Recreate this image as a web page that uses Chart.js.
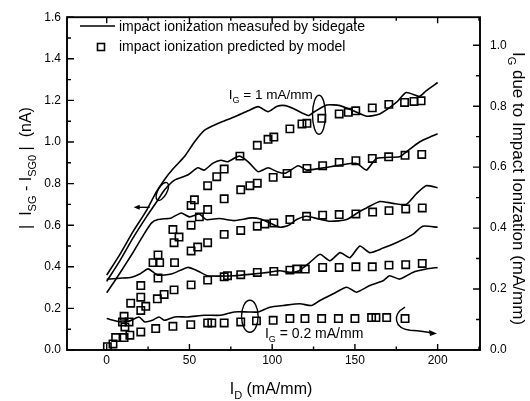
<!DOCTYPE html>
<html>
<head>
<meta charset="utf-8">
<script src="https://cdn.jsdelivr.net/npm/chart.js@4.4.1/dist/chart.umd.min.js"></script>
<style>
html,body{margin:0;padding:0;background:#fff;}
#c{display:block;}
</style>
</head>
<body>
<canvas id="c" width="530" height="401"></canvas>
<script>
// ---------- axis ticks ----------
const xTicks = [0, 50, 100, 150, 200];
const yLeftTicks = [0, 0.2, 0.4, 0.6, 0.8, 1.0, 1.2, 1.4, 1.6];
const yRightTicks = [0, 0.2, 0.4, 0.6, 0.8, 1.0];

// ---------- measured by sidegate (lines), [I_D, |I_SG - I_SG0|] ----------
const measuredA = [[0,0.36],[8,0.46],[16,0.57],[24,0.67],[30,0.76],[35,0.82],[40,0.87],[47,0.93],[53,1.0],[59,1.056],[69,1.095],[77,1.12],[85.5,1.15],[91.5,1.17],[97.5,1.146],[103,1.172],[108,1.175],[113,1.16],[122,1.127],[125,1.143],[133,1.178],[141,1.175],[149,1.15],[157,1.124],[165,1.135],[175,1.19],[181,1.238],[189,1.22],[193,1.246],[200,1.286]];
const measuredB = [[0,0.33],[8,0.43],[16,0.54],[24,0.64],[30,0.71],[35,0.77],[41,0.817],[49,0.841],[55,0.876],[59,0.865],[64,0.897],[69,0.912],[73,0.905],[80,0.932],[85.5,0.905],[91.5,0.857],[97.5,0.876],[103,0.857],[108,0.85],[115.7,0.886],[120.8,0.865],[131,0.876],[141,0.889],[151,0.897],[157,0.865],[163,0.921],[177,0.929],[181,0.952],[189,1.0],[193,1.016],[200,1.04]];
const measuredC = [[0,0.275],[8,0.37],[16,0.47],[22,0.55],[27,0.61],[31,0.627],[39,0.635],[45,0.659],[50,0.64],[56,0.654],[60,0.627],[68,0.632],[77,0.622],[87.5,0.635],[93,0.63],[97.5,0.615],[104.7,0.59],[110,0.6],[114.8,0.627],[120.8,0.643],[128,0.63],[135,0.619],[145,0.627],[153,0.667],[157,0.683],[165,0.714],[173,0.705],[181,0.70],[187,0.75],[193,0.79],[200,0.78]];
const measuredD = [[0,0.34],[8,0.345],[15,0.35],[20,0.365],[25,0.39],[31,0.36],[39,0.365],[49,0.397],[55,0.38],[61,0.357],[77,0.357],[88,0.365],[97.6,0.373],[104.7,0.381],[110.7,0.373],[116,0.38],[122.8,0.421],[128.9,0.46],[135,0.429],[141,0.468],[147,0.444],[153,0.5],[159,0.468],[167,0.49],[175,0.516],[185,0.556],[191,0.595],[200,0.59]];
const measuredE = [[0,0.151],[8.5,0.135],[14,0.14],[19.5,0.159],[23,0.135],[27.6,0.143],[31.6,0.159],[35,0.143],[41,0.159],[49,0.159],[59,0.167],[69,0.167],[77,0.183],[85.5,0.183],[91.5,0.183],[98.6,0.206],[106.7,0.214],[116.8,0.222],[123.8,0.214],[128.9,0.238],[136.9,0.27],[145,0.302],[151,0.278],[159,0.31],[167,0.333],[171,0.357],[177,0.341],[185,0.373],[193,0.389],[200,0.397]];

// ---------- predicted by model (squares), [I_D, |I_SG - I_SG0|] ----------
const predictedA = [[10.5,0.162],[31,0.457],[40,0.579],[51,0.695],[53,0.722],[61,0.79],[66.5,0.833],[71,0.87],[80.5,0.932],[91,0.984],[97.5,1.013],[101,1.024],[110.7,1.063],[118,1.087],[121,1.09],[130,1.114],[140.5,1.135],[146,1.143],[150.5,1.15],[160.5,1.164],[170.5,1.181],[180,1.19],[185.7,1.195],[190,1.198]];
const predictedB = [[9.5,0.135],[14.5,0.225],[20.6,0.31],[28,0.42],[32,0.42],[40.7,0.516],[43.7,0.543],[51,0.6],[56,0.64],[61,0.675],[71,0.727],[81,0.77],[86.5,0.79],[91,0.802],[100.6,0.83],[109,0.849],[121,0.873],[130.5,0.886],[140.5,0.902],[150.6,0.91],[160.5,0.921],[170.4,0.929],[180.3,0.936],[190.4,0.94]];
const predictedC = [[11,0.111],[13.5,0.135],[20.6,0.254],[31,0.346],[41,0.42],[51,0.476],[55,0.495],[61,0.516],[71,0.556],[81,0.575],[91,0.595],[95.6,0.606],[101,0.611],[110.7,0.627],[120.8,0.643],[130.5,0.648],[140.5,0.651],[150.6,0.654],[160.7,0.663],[170.6,0.67],[180.7,0.678],[190.7,0.683]];
const predictedD = [[3.8,0.029],[10.5,0.06],[14,0.071],[20.6,0.19],[23.6,0.21],[30.6,0.246],[34.7,0.267],[40.7,0.289],[51,0.313],[61,0.336],[71,0.352],[73,0.357],[81,0.362],[91,0.373],[101,0.378],[110.7,0.384],[114.8,0.389],[120,0.389],[130.5,0.397],[140.5,0.397],[150.6,0.4],[160.5,0.4],[170.6,0.408],[180.7,0.41],[190.7,0.416]];
const predictedE = [[0.4,0.016],[5.4,0.06],[20.6,0.087],[29.6,0.103],[40,0.114],[50.8,0.122],[61,0.13],[63.5,0.13],[71,0.13],[81,0.135],[90.5,0.14],[100.6,0.143],[110.7,0.151],[119.8,0.151],[129.9,0.151],[140,0.151],[150,0.151],[160.1,0.156],[162.7,0.156],[169.2,0.156],[180.3,0.151]];

const FAM = '"Liberation Sans", Arial, Helvetica, sans-serif';

const lineSets = [measuredA, measuredB, measuredC, measuredD, measuredE];
const squareSets = [predictedA, predictedB, predictedC, predictedD, predictedE];
const toXY = arr => arr.map(([x, y]) => ({x, y}));

const datasets = [];
lineSets.forEach(s => datasets.push({
  data: toXY(s), showLine: true, borderColor: '#000', borderWidth: 1.6,
  pointRadius: 0, tension: 0.2, yAxisID: 'y', order: 2
}));
squareSets.forEach(s => datasets.push({
  data: toXY(s), showLine: false, pointStyle: 'rect', pointRadius: 5.2,
  pointBorderColor: '#000', pointBackgroundColor: 'rgba(0,0,0,0)', pointBorderWidth: 1.6,
  yAxisID: 'y', order: 1
}));

function rich(ctx, parts, size, cx, cy, align, rot, subScale) {
  ctx.save();
  ctx.translate(cx, cy);
  if (rot) ctx.rotate(rot);
  const sub = Math.round(size * (subScale || 0.66));
  const w = parts.map(([t, s]) => { ctx.font = (s ? sub : size) + 'px ' + FAM; return ctx.measureText(t).width; });
  const total = w.reduce((a, b) => a + b, 0);
  let x = align === 'left' ? 0 : -total / 2;
  ctx.fillStyle = '#000'; ctx.textAlign = 'left'; ctx.textBaseline = 'alphabetic';
  const base = size * 0.36;
  parts.forEach(([t, s], i) => {
    ctx.font = (s ? sub : size) + 'px ' + FAM;
    ctx.fillText(t, x, base + (s ? size * 0.3 : 0));
    x += w[i];
  });
  ctx.restore();
}

const decor = {
  id: 'decor',
  afterDraw(chart) {
    const {ctx, chartArea: a, scales: {x, y, y2}} = chart;
    const P = (i, v) => [x.getPixelForValue(i), y.getPixelForValue(v)];
    ctx.save();
    ctx.strokeStyle = '#000'; ctx.fillStyle = '#000';
    // frame
    ctx.lineWidth = 1.9;
    ctx.strokeRect(a.left, a.top, a.right - a.left, a.bottom - a.top);
    // ticks
    ctx.lineWidth = 1.4;
    ctx.beginPath();
    for (let v = -25; v <= 225; v += 25) {
      if (v < x.min || v > x.max) continue;
      const px = x.getPixelForValue(v), L = (v % 50 === 0) ? 6 : 3.5;
      ctx.moveTo(px, a.bottom); ctx.lineTo(px, a.bottom - L);
      ctx.moveTo(px, a.top); ctx.lineTo(px, a.top + L);
    }
    for (let k = 0; k <= 16; k++) {
      const py = y.getPixelForValue(k / 10), L = (k % 2 === 0) ? 7 : 4;
      ctx.moveTo(a.left, py); ctx.lineTo(a.left + L, py);
    }
    for (let k = 0; k <= 10; k++) {
      const py = y2.getPixelForValue(k / 10), L = (k % 2 === 0) ? 7 : 4;
      ctx.moveTo(a.right, py); ctx.lineTo(a.right - L, py);
    }
    ctx.stroke();

    // axis titles
    rich(ctx, [['I', 0], ['D', 1], [' (mA/mm)', 0]], 16, 271, 388, 'center', 0);
    rich(ctx, [['|  I', 0], ['SG', 1], [' - I', 0], ['SG0', 1], [' |  (nA)', 0]], 16, 25, 168, 'center', -Math.PI / 2, 0.7);
    rich(ctx, [['I', 0], ['G', 1], [' due to Impact Ionization (mA/mm)', 0]], 17, 519, 188.5, 'center', Math.PI / 2);

    // legend
    ctx.lineWidth = 1.6;
    ctx.beginPath(); ctx.moveTo(80, 26); ctx.lineTo(115, 26); ctx.stroke();
    ctx.strokeRect(97.5, 43.5, 7, 7);
    ctx.font = '14px ' + FAM; ctx.textBaseline = 'middle'; ctx.textAlign = 'left';
    ctx.fillText('impact ionization measured by sidegate', 119, 27);
    ctx.fillText('impact ionization predicted by model', 119, 47);

    // annotations
    let p = P(73.8, 1.229);
    rich(ctx, [['I', 0], ['G', 1], [' = 1 mA/mm', 0]], 13.5, p[0], p[1], 'left', 0);
    p = P(95.6, 0.081);
    rich(ctx, [['I', 0], ['G', 1], [' = 0.2 mA/mm', 0]], 14, p[0], p[1], 'left', 0);

    ctx.lineWidth = 1.4;
    p = P(128.3, 1.131);
    ctx.beginPath(); ctx.ellipse(p[0], p[1], 6.5, 19.5, 0, 0, Math.PI * 2); ctx.stroke();
    p = P(86.5, 0.162);
    ctx.beginPath(); ctx.ellipse(p[0], p[1], 8.3, 16, 0, 0, Math.PI * 2); ctx.stroke();
    p = P(33.6, 0.762);
    ctx.beginPath(); ctx.ellipse(p[0], p[1], 10, 4.5, -61 * Math.PI / 180, 0, Math.PI * 2); ctx.stroke();

    // small left arrow
    const s1 = P(26, 0.686), e1 = P(16.3, 0.686);
    ctx.beginPath(); ctx.moveTo(s1[0], s1[1]); ctx.lineTo(e1[0] + 4, e1[1]); ctx.stroke();
    ctx.beginPath(); ctx.moveTo(e1[0], e1[1]); ctx.lineTo(e1[0] + 6, e1[1] - 2.5); ctx.lineTo(e1[0] + 6, e1[1] + 2.5); ctx.closePath(); ctx.fill();

    // curved arrow to the right axis
    const q0 = P(180.3, 0.206), q1 = P(172.4, 0.171), q2 = P(173.6, 0.105), q3 = P(183.3, 0.095), q4 = P(192.4, 0.09), q5 = P(199.6, 0.079);
    ctx.beginPath(); ctx.moveTo(q0[0], q0[1]);
    ctx.bezierCurveTo(q1[0], q1[1], q2[0], q2[1], q3[0], q3[1]);
    ctx.quadraticCurveTo(q4[0], q4[1], q5[0] - 5, q5[1] - 0.6);
    ctx.stroke();
    ctx.beginPath(); ctx.moveTo(q5[0], q5[1]); ctx.lineTo(q5[0] - 8, q5[1] - 3.5); ctx.lineTo(q5[0] - 7, q5[1] + 2.5); ctx.closePath(); ctx.fill();
    ctx.restore();
  }
};

const tickFont = {family: FAM, size: 12};
const noGrid = {display: false, drawTicks: false, tickLength: 0};
new Chart(document.getElementById('c').getContext('2d'), {
  type: 'scatter',
  data: {datasets},
  options: {
    responsive: false, animation: false, devicePixelRatio: 1,
    layout: {padding: {top: 14, left: 0, right: 0, bottom: 0}},
    plugins: {legend: {display: false}, tooltip: {enabled: false}},
    scales: {
      x: {
        type: 'linear', position: 'bottom', min: -24, max: 225.6,
        grid: noGrid, border: {display: false},
        afterBuildTicks: s => { s.ticks = xTicks.map(v => ({value: v})); },
        ticks: {font: tickFont, color: '#000', padding: 3, maxRotation: 0, autoSkip: false, callback: v => String(v)},
        afterFit: s => { s.height = 51; }
      },
      y: {
        type: 'linear', position: 'left', min: 0, max: 1.6,
        grid: noGrid, border: {display: false},
        afterBuildTicks: s => { s.ticks = yLeftTicks.map(v => ({value: v})); },
        ticks: {font: tickFont, color: '#000', padding: 6, autoSkip: false, callback: v => Number(v).toFixed(1)},
        afterFit: s => { s.width = 67; }
      },
      y2: {
        type: 'linear', position: 'right', min: 0, max: 1.092,
        grid: noGrid, border: {display: false},
        afterBuildTicks: s => { s.ticks = yRightTicks.map(v => ({value: v})); },
        ticks: {font: tickFont, color: '#000', padding: 10, autoSkip: false, callback: v => Number(v).toFixed(1)},
        afterFit: s => { s.width = 50; }
      }
    }
  },
  plugins: [decor]
});
</script>
</body>
</html>
